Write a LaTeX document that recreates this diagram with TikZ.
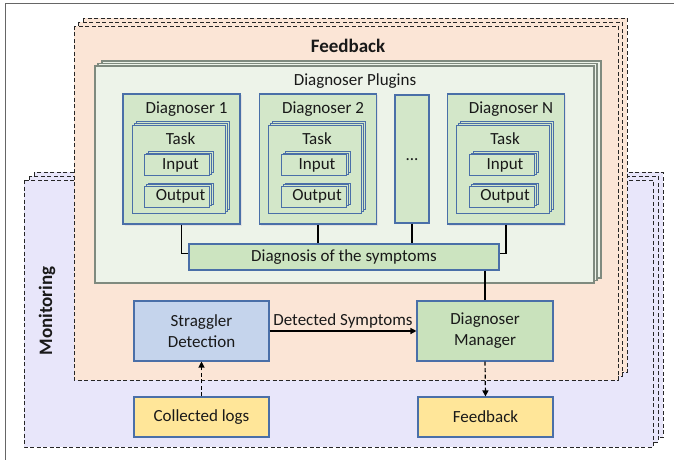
\documentclass[tikz,border=0pt]{standalone}
\usepackage{fontspec}
\setmainfont{Carlito}
\usetikzlibrary{arrows.meta,calc}
\definecolor{peach}{HTML}{FBE5D6}
\definecolor{lav}{HTML}{E8E6FA}
\definecolor{plug}{HTML}{EDF3E9}
\definecolor{gfill}{HTML}{D3E7C9}
\definecolor{mfill}{HTML}{C9E2BC}
\definecolor{bfill}{HTML}{C5D4EC}
\definecolor{yfill}{HTML}{FFE699}
\definecolor{bline}{HTML}{4A6FA8}
\definecolor{gline}{HTML}{7F8A7F}
\begin{document}
\begin{tikzpicture}[x=1pt,y=-1pt,
  txt/.style={font=\fontsize{17}{21}\selectfont, text=black!90},
  dashbox/.style={draw=black!85, dash pattern=on 4pt off 2.5pt, line width=0.9pt},
  plugbox/.style={draw=gline, line width=1.1pt, fill=plug},
  gbox/.style={draw=bline, line width=1.1pt, fill=gfill, inner sep=0pt},
  lbox/.style={draw=bline, line width=1pt, fill=gfill},
  conn/.style={draw=black, line width=1.3pt},
  tip/.style={-{Triangle[length=6pt,width=6pt]}}
]
\useasboundingbox (0,0) rectangle (674,460);
\fill[white] (0,0) rectangle (674,460);
% outer frame
\draw[black!60, line width=1pt] (5,470) -- (5,4) -- (690,4);

% Monitoring stack
\draw[dashbox, fill=lav] (34,172) rectangle (663,437);
\draw[dashbox, fill=lav] (29,176) rectangle (658,442);
\draw[dashbox, fill=lav] (24,180) rectangle (653,447);
\node[txt, font=\fontsize{19}{22}\selectfont\bfseries, rotate=90] (mon) at (47,311) {Monitoring};

% Feedback stack
\draw[dashbox, fill=peach] (83,18) rectangle (627,372);
\draw[dashbox, fill=peach] (78,22) rectangle (622,376);
\draw[dashbox, fill=peach] (74,26) rectangle (618,380);
\node[txt, font=\fontsize{19}{22}\selectfont\bfseries] (fbt) at (348,46) {Feedback};

% Plugins stack
\draw[plugbox] (102,61) rectangle (601,278);
\draw[plugbox] (98,63.5) rectangle (597,280.5);
\draw[plugbox] (95,66) rectangle (594,283);
\node[txt] (plt) at (355,81) {Diagnoser Plugins};

% Diagnoser boxes
\foreach \n/\cx/\lab in {d1/181.5/Diagnoser 1, d2/318/Diagnoser 2, dN/506/Diagnoser N}{
  \fill[black!12] (\cx-57,95) rectangle (\cx+60,226);
  \node[gbox, minimum width=117pt, minimum height=130pt] (\n) at (\cx,159) {};
  \node[txt] (\n t) at (\cx+5,109) {\lab};
  % task stack
  \begin{scope}[shift={(\cx-3,169)}]
    \draw[lbox, shift={(4,-4)}] (-46.5,-44) rectangle (46.5,44);
    \draw[lbox, shift={(2,-2)}] (-46.5,-44) rectangle (46.5,44);
  \end{scope}
  \node[gbox, line width=1pt, minimum width=93pt, minimum height=88pt] (\n task) at (\cx-3,169) {};
  \node[txt] (\n tl) at (\cx-1,139) {Task};
  \foreach \k/\yy/\kl in {in/165/Input, out/196.5/Output}{
    \begin{scope}[shift={(\cx-4.5,\yy)}]
      \draw[lbox, shift={(4,-3)}] (-32.5,-10.5) rectangle (32.5,10.5);
      \draw[lbox, shift={(2,-1.5)}] (-32.5,-10.5) rectangle (32.5,10.5);
    \end{scope}
    \node[gbox, line width=1pt, minimum width=65pt, minimum height=21pt] (\n\k) at (\cx-4.5,\yy) {};
    \node[txt] (\n\k t) at (\cx-1,\yy) {\kl};
  }
}
\node[gbox, minimum width=34pt, minimum height=128pt] (dots) at (412,159) {};
\node[txt] (dotst) at (412,160) {...};

% Diagnosis box
\node[gbox, fill=mfill!70!gfill, minimum width=310pt, minimum height=26pt, txt] (diag) at (344,257) {Diagnosis of the symptoms};

% bottom boxes
\node[gbox, fill=bfill, minimum width=135pt, minimum height=60pt, align=center, txt] (strag) at (201.5,331) {Straggler\\Detection};
\node[gbox, fill=mfill, minimum width=136pt, minimum height=60pt, align=center, txt] (mgr) at (485,331) {Diagnoser\\Manager};
\node[gbox, fill=yfill, minimum width=135pt, minimum height=40pt, txt] (logs) at (201.5,417) {Collected logs};
\node[gbox, fill=yfill, minimum width=135pt, minimum height=40pt, txt] (fb) at (485.5,417) {Feedback};

% connectors
\draw[conn] (d1.south) |- ([yshift=3.5pt]diag.west);
\draw[conn] (dN.south) |- ([yshift=3.5pt]diag.east);
\draw[conn] (d2.south) -- (d2.south |- diag.north);
\draw[conn] (dots.south) -- (dots.south |- diag.north);
\draw[conn] (diag.south -| mgr.north) -- (mgr.north);
\draw[conn, tip] (strag.east) -- node[txt, above, inner sep=2pt] (dsl) {Detected Symptoms} (mgr.west);
\draw[line width=1.2pt, dash pattern=on 4pt off 2.5pt, tip] (logs.north) -- (strag.south);
\draw[line width=1.2pt, dash pattern=on 4pt off 2.5pt, tip] (mgr.south) -- (fb.north);
\end{tikzpicture}
\end{document}
